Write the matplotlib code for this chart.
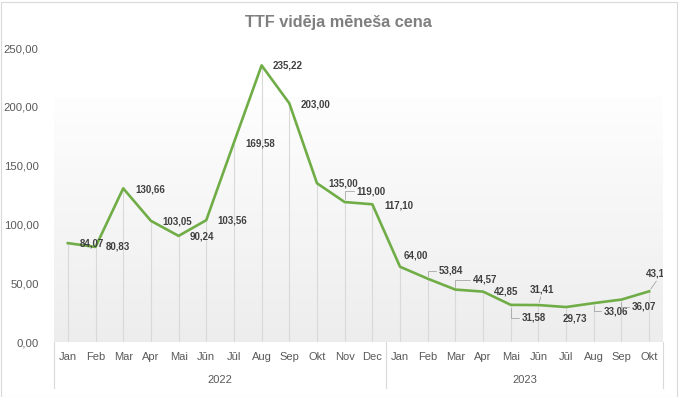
import numpy as np
import matplotlib.pyplot as plt
from matplotlib.colors import LinearSegmentedColormap
from matplotlib.patches import Rectangle

plt.rcParams['font.family'] = ['Liberation Sans', 'DejaVu Sans']

# data
months = ["Jan", "Feb", "Mar", "Apr", "Mai", "Jūn", "Jūl", "Aug", "Sep", "Okt", "Nov", "Dec",
          "Jan", "Feb", "Mar", "Apr", "Mai", "Jūn", "Jūl", "Aug", "Sep", "Okt"]
years = ["2022", "2023"]
months_per_year = [12, 10]
prices = [84.07, 80.83, 130.66, 103.05, 90.24, 103.56, 169.58, 235.22, 203.00, 135.00, 119.00, 117.10,
          64.00, 53.84, 44.57, 42.85, 31.58, 31.41, 29.73, 33.06, 36.07, 43.10]
y_ticks = [0, 50, 100, 150, 200, 250]

# label placement: offset (px) of label left edge / centre from point, leader line or not
label_dx = [12, 10, 12, 11, 11, 11, 11, 11, 11, 11, 12, 12,
            4, 11, 17, 11, 11, -9, -3, 10, 10, -3]
label_dy = [0, 0, -1, -1, -1, 0, -1, 0, -1, 0, 11, -1,
            11, 8, 10, 0, -13, 16, -11, -8, -7, 18]
leader = [None] * 10 + ["elbow", None, None, "elbow", "elbow", None, "elbow", "line", None, "elbow", "elbow", "line"]

fmt = lambda v: f"{v:.2f}".replace(".", ",")

fig = plt.figure(figsize=(6.79, 3.97), dpi=100)
ax = fig.add_axes([54 / 679, 55 / 397, 609 / 679, 294 / 397])

x = np.arange(len(prices))
ax.set_xlim(-0.5, len(prices) - 0.5)
ax.set_ylim(0, 250)

# plot area gradient fill
grad = np.linspace(0, 1, 256).reshape(-1, 1)
cmap = LinearSegmentedColormap.from_list("bg", ["#ededed", "#fefefe"])
ax.imshow(grad, extent=[-0.5, len(prices) - 0.5, 0, 207.5], origin="lower",
          aspect="auto", cmap=cmap, zorder=0)

ax.vlines(x, 0, prices, color="#d9d9d9", lw=0.8, zorder=1)
ax.plot(x, prices, color="#70ad47", lw=1.9, zorder=3, solid_joinstyle="round")

for i, v in enumerate(prices):
    style = leader[i]
    arrow = None
    if style == "elbow":
        arrow = dict(arrowstyle="-", color="#a6a6a6", lw=0.6, shrinkA=0, shrinkB=2,
                     relpos=(0, 0.5), connectionstyle="angle,angleA=0,angleB=90,rad=0")
    elif style == "line":
        arrow = dict(arrowstyle="-", color="#a6a6a6", lw=0.6, shrinkA=0, shrinkB=2,
                     relpos=(0.5, 0))
    ann = ax.annotate(fmt(v), (i, v), xytext=(label_dx[i], label_dy[i]),
                      textcoords="offset pixels", ha="left", va="center",
                      fontsize=7, fontweight="bold", color="#404040",
                      arrowprops=arrow, zorder=4)
    if i == len(prices) - 1:
        ann.set_clip_box(ax.bbox)
        ann.set_clip_on(True)

for s in ax.spines.values():
    s.set_visible(False)

ax.set_yticks(y_ticks)
ax.set_yticklabels([fmt(t) for t in y_ticks])
ax.tick_params(axis="y", length=0, pad=11, labelsize=8.2, labelcolor="#595959")
ax.set_xticks([])

# category axis: baseline, separators, month and year labels
ax.axhline(0, color="#d9d9d9", lw=0.8, zorder=2)
trans = ax.get_xaxis_transform()
bounds = np.concatenate([[0], np.cumsum(months_per_year)]) - 0.5
for b in bounds:
    ax.plot([b, b], [0, -46 / 294], color="#d9d9d9", lw=0.8, transform=trans, clip_on=False)
for i, m in enumerate(months):
    ax.text(i, -15 / 294, m, transform=trans, ha="center", va="center",
            fontsize=8, color="#595959")
for k, yr in enumerate(years):
    ax.text((bounds[k] + bounds[k + 1]) / 2, -38 / 294, yr, transform=trans,
            ha="center", va="center", fontsize=8, color="#595959")

fig.text(338.5 / 679, 1 - 22 / 397, "TTF vidēja mēneša cena", ha="center", va="center",
         fontsize=11.7, fontweight="bold", color="#7f7f7f")

fig.patches.append(Rectangle((0.5 / 679, 0.5 / 397), 676 / 679, 395 / 397, transform=fig.transFigure,
                             fill=False, edgecolor="#d9d9d9", lw=0.8))

fig.savefig("out.png", dpi=100)
